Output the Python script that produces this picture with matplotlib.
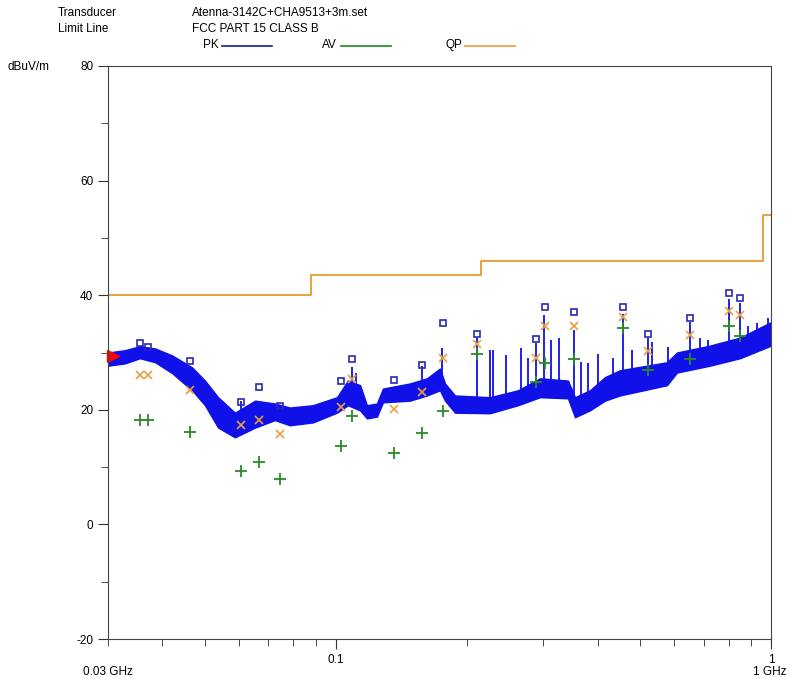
import numpy as np
import matplotlib.pyplot as plt

# measured frequencies (GHz) of the final readings
meas_freq = [0.0356, 0.0370, 0.0463, 0.0607, 0.0668, 0.0746, 0.1030, 0.1092, 0.1362, 0.1582,
             0.1760, 0.2110, 0.2890, 0.3020, 0.3520, 0.4575, 0.5230, 0.6530, 0.8020, 0.8470]
pk_vals = [31.6, 31.0, 28.6, 21.3, 24.0, 20.6, 25.1, 28.8, 25.2, 27.9,
           35.1, 33.2, 32.3, 38.0, 37.0, 38.0, 33.3, 36.0, 40.3, 39.5]
qp_vals = [26.0, 26.0, 23.4, 17.3, 18.3, 15.7, 20.5, 25.3, 20.2, 23.1,
           29.1, 31.4, 29.1, 34.7, 34.6, 36.2, 30.2, 33.0, 37.3, 36.6]
av_vals = [18.3, 18.3, 16.1, 9.3, 10.9, 8.0, 13.7, 19.0, 12.4, 15.9,
           19.8, 29.7, 24.8, 28.2, 28.8, 34.2, 27.0, 28.8, 34.6, 32.9]

# FCC part 15 class B limit (QP)
limit_freq = [0.03, 0.088, 0.088, 0.216, 0.216, 0.96, 0.96, 1.0]
limit_vals = [40, 40, 43.5, 43.5, 46, 46, 54, 54]

# peak scan noise band (lower / upper envelope)
band_freq = [0.0300, 0.0328, 0.0355, 0.0385, 0.0421, 0.0468, 0.0501, 0.0537, 0.0587, 0.0653,
             0.0725, 0.0785, 0.0887, 0.1007, 0.1067, 0.1138, 0.1180, 0.1244, 0.1284, 0.1482,
             0.1621, 0.1736, 0.1783, 0.1880, 0.2262, 0.2623, 0.2947, 0.3417, 0.3546, 0.3837,
             0.4155, 0.4498, 0.5769, 0.6082, 0.7239, 0.8486, 1.0]
band_hi = [30.0, 30.4, 31.1, 30.7, 29.5, 27.4, 25.1, 22.2, 19.5, 21.6,
           21.1, 20.4, 20.8, 22.2, 25.1, 24.3, 20.8, 21.1, 23.7, 24.6,
           25.5, 27.2, 24.6, 22.5, 22.2, 23.4, 25.5, 25.1, 22.2, 23.4,
           25.7, 26.9, 28.3, 30.0, 31.2, 32.6, 35.3]
band_lo = [27.7, 28.1, 29.0, 28.3, 26.4, 23.4, 20.8, 16.9, 15.2, 16.9,
           18.2, 17.3, 17.8, 19.5, 20.8, 19.9, 18.5, 18.8, 21.3, 21.6,
           22.5, 23.4, 21.6, 19.5, 19.4, 20.8, 22.2, 22.0, 18.7, 19.9,
           21.6, 22.5, 24.3, 26.5, 27.7, 29.0, 31.2]

# narrow spikes on the peak scan
spike_freq = [0.0606, 0.1090, 0.1114, 0.1580, 0.1755, 0.2110, 0.2262, 0.2298, 0.2463, 0.2666,
              0.2766, 0.2890, 0.3010, 0.3124, 0.3259, 0.3520, 0.3661, 0.3798, 0.4005, 0.4334,
              0.4575, 0.4794, 0.5230, 0.5329, 0.5800, 0.6530, 0.6867, 0.7165, 0.8020, 0.8470,
              0.8853, 0.9285, 0.9840]
spike_vals = [21.6, 27.4, 26.5, 27.7, 30.7, 32.6, 30.4, 30.4, 29.5, 30.7,
              29.0, 31.6, 36.5, 32.1, 32.5, 33.9, 28.3, 28.1, 29.8, 29.0,
              36.8, 30.4, 32.5, 31.8, 30.9, 35.3, 32.6, 32.1, 39.4, 38.6,
              34.7, 35.1, 36.0]

plt.rcParams['font.family'] = ['Liberation Sans', 'DejaVu Sans']
plt.rcParams['axes.unicode_minus'] = False

fig = plt.figure(figsize=(7.9, 6.77), dpi=100)
ax = fig.add_axes([108 / 790, 1 - 639 / 677, (771 - 108) / 790, (639 - 66) / 677])

trace_col = '#1010e8'
ax.fill_between(band_freq, band_lo, band_hi, color=trace_col, lw=1.0)
spike_base = np.interp(spike_freq, band_freq, band_lo)
ax.vlines(spike_freq, spike_base, spike_vals, color=trace_col, lw=1.3)

ax.plot(limit_freq, limit_vals, color='#e8982e', lw=1.3)

ax.plot(meas_freq, pk_vals, 's', ms=5, mfc='none', mec='#2a2ab4', mew=1.2, ls='none')
ax.plot(meas_freq, qp_vals, 'x', ms=6, color='#e8a040', mew=1.2, ls='none')
ax.plot(meas_freq, av_vals, '+', ms=8, color='#2a8a2a', mew=1.3, ls='none')
ax.plot([0.0308], [29.4], '>', ms=8, color='red', clip_on=False)

ax.set_xscale('log')
ax.set_xlim(0.03, 1.0)
ax.set_ylim(-20, 80)
ax.set_xticks([0.1, 1.0])
ax.set_xticklabels(['0.1', '1'])
ax.set_xticks([0.03, 0.04, 0.05, 0.06, 0.07, 0.08, 0.09, 0.2, 0.3, 0.4, 0.5, 0.6, 0.7, 0.8, 0.9],
              minor=True)
ax.xaxis.set_minor_formatter(plt.NullFormatter())
ax.set_yticks(range(-20, 81, 20))
ax.set_yticks(range(-10, 80, 20), minor=True)
ax.tick_params(which='both', direction='out', labelsize=8.5, color='#333333')
ax.tick_params(which='major', length=7)
ax.tick_params(which='minor', length=5)
for sp in ax.spines.values():
    sp.set_color('#444444')

# header
fs = 8.5
fig.text(58 / 790, 1 - 13 / 677, 'Transducer', fontsize=fs, va='center')
fig.text(58 / 790, 1 - 29 / 677, 'Limit Line', fontsize=fs, va='center')
fig.text(192 / 790, 1 - 13 / 677, 'Atenna-3142C+CHA9513+3m.set', fontsize=fs, va='center')
fig.text(192 / 790, 1 - 29 / 677, 'FCC PART 15 CLASS B', fontsize=fs, va='center')
leg = [('PK', 203, '#1a1aa0'), ('AV', 322, '#1a8a1a'), ('QP', 446, '#e8a040')]
for name, x0, col in leg:
    fig.text(x0 / 790, 1 - 45 / 677, name, fontsize=fs, va='center')
    fig.add_artist(plt.Line2D([(x0 + 19) / 790, (x0 + 69) / 790], [1 - 46 / 677] * 2,
                              color=col, lw=1.2))

fig.text(8 / 790, 1 - 67 / 677, 'dBuV/m', fontsize=fs, va='center')
fig.text(108 / 790, 1 - 672 / 677, '0.03 GHz', fontsize=fs, ha='center', va='center')
fig.text(770 / 790, 1 - 672 / 677, '1 GHz', fontsize=fs, ha='center', va='center')

fig.savefig('out.png', dpi=100)
